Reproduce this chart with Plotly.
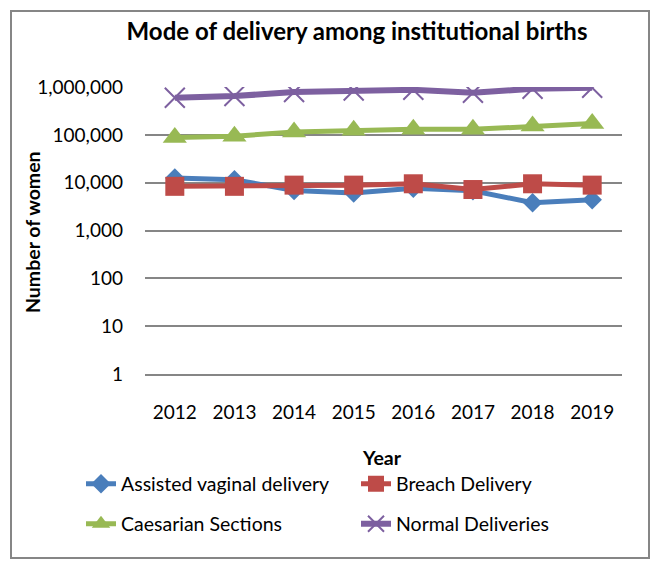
import plotly.graph_objects as go

years = ["2012", "2013", "2014", "2015", "2016", "2017", "2018", "2019"]
assisted_vaginal = [12500, 11500, 6900, 6100, 7700, 6800, 3800, 4400]
breach_delivery = [8400, 8400, 8900, 8900, 9500, 7200, 9500, 8900]
caesarian_sections = [88000, 94000, 115000, 125000, 131000, 131000, 154000, 173000]
normal_deliveries = [600000, 650000, 790000, 850000, 880000, 765000, 925000, 970000]

y_tick_vals = [1, 10, 100, 1000, 10000, 100000, 1000000]
y_tick_text = ["1", "10", "100", "1,000", "10,000", "100,000", "1,000,000"]

FONT = "Lato"
series = [
    ("Assisted vaginal delivery", assisted_vaginal, "#4A7EBB", "diamond", 15, "legend", 5),
    ("Breach Delivery", breach_delivery, "#BE4B48", "square", 19, "legend", 5),
    ("Caesarian Sections", caesarian_sections, "#98B954", "triangle-up", 21, "legend2", 5),
    ("Normal Deliveries", normal_deliveries, "#7D60A0", "x-thin-open", 20, "legend2", 6),
]

fig = go.Figure()
for name, vals, color, sym, size, leg, lw in series:
    marker = dict(symbol=sym, size=size, color=color)
    if sym.startswith("x-thin"):
        marker["line"] = dict(color=color, width=2)
    else:
        marker["line"] = dict(width=0)
    fig.add_trace(go.Scatter(
        x=years, y=vals, name=name, mode="lines+markers",
        line=dict(color=color, width=lw), marker=marker, legend=leg,
    ))

W, H = 661, 571
L, R, T, B = 145, 622, 87, 374
pw, ph = R - L, B - T

def px(x):
    return (x - L) / pw

def py(y):
    return (B - y) / ph

fig.update_layout(
    width=W, height=H,
    margin=dict(l=L, r=W - R, t=T, b=H - B),
    paper_bgcolor="white", plot_bgcolor="white",
    font=dict(family=FONT, size=19, color="black"),
    title=dict(text="<b>Mode of delivery among institutional births</b>",
               font=dict(family=FONT, size=24, color="black"),
               x=px(357), xanchor="center", xref="paper",
               y=1 - 32 / H, yanchor="middle", yref="container"),
    xaxis=dict(showgrid=False, showline=True, linecolor="#868686", linewidth=2,
               range=[-0.5, len(years) - 0.5],
               ticks="", tickfont=dict(size=19), ticklabelstandoff=20),
    yaxis=dict(type="log", range=[-0.003, 6.003], tickvals=y_tick_vals, ticktext=y_tick_text,
               showgrid=True, gridcolor="#868686", gridwidth=2, showline=False,
               ticks="", tickfont=dict(size=19), ticklabelstandoff=21, zeroline=False),
    legend=dict(orientation="h", x=px(81), xanchor="left", y=py(484), yanchor="middle",
                entrywidth=230, entrywidthmode="pixels", font=dict(size=19.5),
                bgcolor="rgba(0,0,0,0)"),
    legend2=dict(orientation="h", x=px(81), xanchor="left", y=py(524), yanchor="middle",
                 entrywidth=230, entrywidthmode="pixels", font=dict(size=19.5),
                 bgcolor="rgba(0,0,0,0)"),
    annotations=[
        dict(text="<b>Number of women</b>", textangle=-90, x=px(32), y=py(232),
             xref="paper", yref="paper", showarrow=False, font=dict(size=19.5),
             xanchor="center", yanchor="middle"),
        dict(text="<b>Year</b>", x=px(382), y=py(457), xref="paper", yref="paper",
             showarrow=False, font=dict(size=19.5), xanchor="center", yanchor="middle"),
    ],
    shapes=[dict(type="rect", xref="paper", yref="paper",
                 x0=px(11), x1=px(649), y0=py(558), y1=py(11),
                 line=dict(color="#868686", width=2), layer="below")],
)

fig.write_html("out.html", config={"displayModeBar": False},
               post_script="document.body.style.margin='0px';")
